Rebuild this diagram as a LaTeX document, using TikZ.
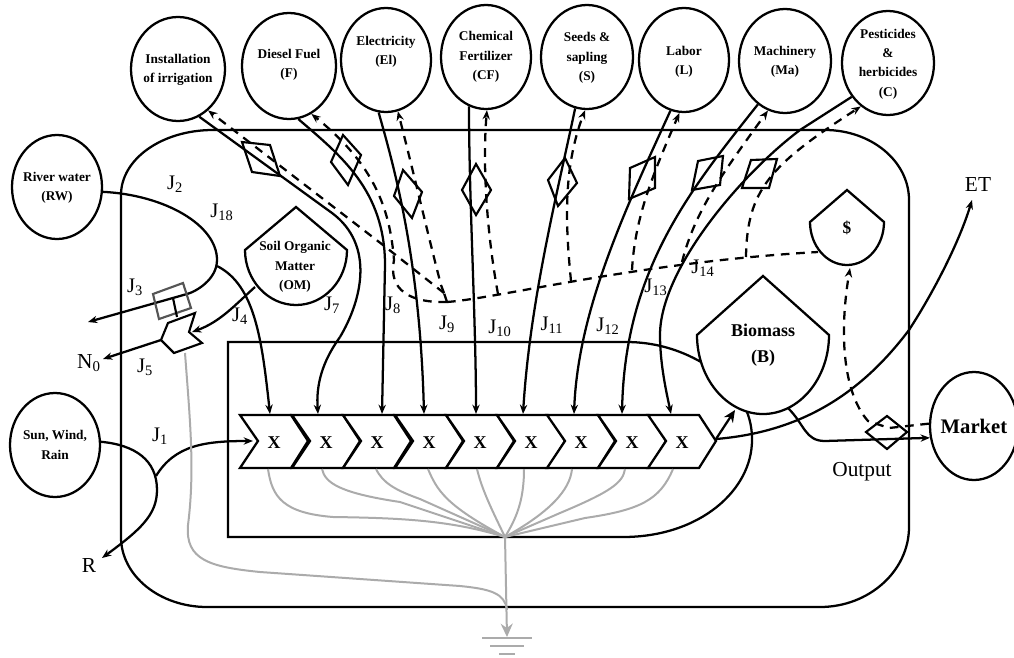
\documentclass[tikz,border=0pt]{standalone}
\usepackage{fontspec}
\setmainfont{Liberation Serif}
\usepackage{tikz}
\usetikzlibrary{arrows.meta, calc, shapes.geometric}
\definecolor{sinkc}{HTML}{ABABAB}
\definecolor{valvec}{HTML}{555555}
\tikzset{
  flow/.style={line width=1.7pt},
  money/.style={line width=1.7pt, dash pattern=on 6.5pt off 5pt},
  sink/.style={sinkc, line width=1.5pt},
  jlab/.style={inner sep=0pt, font=\fontsize{15.5}{17}\selectfont},
  plainlab/.style={inner sep=0pt, font=\fontsize{16}{18}\selectfont},
  srctext/.style={inner sep=0pt, align=center, font=\fontsize{10}{14.6}\selectfont\bfseries},
}
\newcommand{\source}[6]{%
  \node[ellipse, draw, line width=1.7pt, inner sep=0pt,
        minimum width=#3*1.5pt, minimum height=#4*1.5pt] (#1) at #2 {};
  \node[srctext] (#1t) at ($#2+(0,#5)$) {#6};
}
\newcommand{\tank}[9]{%
  \draw[line width=1.7pt] (#2,#3) -- ({#2+#4},#5)
    .. controls ({#2+#4},{#5+0.55*(#6-#5)}) and ({#2+0.55*#4},#6) .. (#2,#6)
    .. controls ({#2-0.55*#4},#6) and ({#2-#4},{#5+0.55*(#6-#5)}) .. ({#2-#4},#5) -- cycle;
  \node[srctext, #8] (#1) at #7 {#9};
}
\newcommand{\gate}[4]{%
  \draw[line width=1.6pt, line join=miter] #1 -- #2 -- #3 -- #4 -- cycle;
}

\begin{document}
\begin{tikzpicture}[x=0.75pt, y=-0.75pt, >={Stealth[length=7pt, width=5.5pt]}, line width=1.7pt]
  \useasboundingbox (0,0) rectangle (1014,657);
  \draw[flow] (213,130) -- (825,130) .. controls (871,130) and (909,161) .. (909,200)
    -- (909,527) .. controls (909,571) and (869,607) .. (820,607) -- (207,607)
    .. controls (160,607) and (121,576) .. (121,537) -- (121,195)
    .. controls (121,159) and (162,130) .. (213,130) -- cycle;

  \source{inst}{(178,69)}{47}{52}{1}{Installation\\of irrigation}
  \source{diesel}{(289,66)}{47}{53}{-1}{Diesel Fuel\\(F)}
  \source{elec}{(386,60)}{45}{52}{-8}{Electricity\\(El)}
  \source{cf}{(486,57)}{45}{52}{0}{Chemical\\Fertilizer\\(CF)}
  \source{seeds}{(587,57)}{46}{52}{1}{Seeds \&\\sapling\\(S)}
  \source{labor}{(684,60)}{45}{52}{2}{Labor\\(L)}
  \source{mach}{(785,61)}{46}{52}{1}{Machinery\\(Ma)}
  \source{pest}{(888,63)}{46}{52}{1}{Pesticides\\\&\\herbicides\\(C)}
  \source{rw}{(57,187)}{45}{52}{1}{River water\\(RW)}
  \source{sun}{(55,445)}{45}{52}{0}{Sun, Wind,\\Rain}
  \source{market}{(974,426)}{44}{54}{0}{\fontsize{15.5}{18}\selectfont Market}

  \tank{om}{296}{207}{51}{250}{305}{(295,267)}{}{Soil Organic\\Matter\\(OM)}
  \tank{dollar}{847}{190}{37}{222}{265}{(847,228)}{font=\fontsize{13}{16}\selectfont\bfseries}{\$}
  \tank{bio}{763}{276}{66}{335}{414}{(763,345)}{font=\fontsize{13.5}{19.5}\selectfont\bfseries}{Biomass\\(B)}

  \foreach \i/\cx/\inx/\outx in {1/240/270/268, 2/292/318/322, 3/343/382/376, 4/395/424/428,
      5/446/476/477, 6/497/523/524, 7/547/574/572, 8/598/622/625, 9/648/671/673} {
    \draw[line width=1.7pt, fill=white] (\cx,415) -- ({\cx+51},415) -- ({\cx+68},441)
      -- ({\cx+51},468) -- (\cx,468) -- ({\cx+18},441) -- cycle;
    \node[inner sep=0pt, font=\fontsize{13.5}{16}\selectfont\bfseries] (x\i) at ({\cx+34},443) {X};
    \coordinate (in\i) at (\inx,414);
    \coordinate (out\i) at (\outx,469);
  }
  \coordinate (notch) at (253,441);
  \coordinate (tip) at (716,439);
  \coordinate (hub) at (505,537);
  \coordinate (gnd) at (507,637);
  \coordinate (moneyhub) at (447,302);
  \coordinate (hubtop) at (444,293);
  \coordinate (dollarin) at (818,252);

  \draw[line width=1.7pt] (701,362) .. controls (680,350) and (655,342) .. (626,342)
    -- (228,342) -- (228,537) -- (623,537) .. controls (700,537) and (752,490) .. (752,440)
    .. controls (752,428) and (750,420) .. (747,412);

  \draw[flow] (inst.-66) -- (332,213) .. controls (375,245) and (362,300) .. (340,337);
  \draw[flow, ->] (340,337) .. controls (322,362) and (316,385) .. (in2);
  \draw[flow, ->] (diesel.-80) .. controls (340,155) and (385,190) .. (385,265) -- (in3);
  \draw[flow, ->] (elec.-98) .. controls (395,170) and (420,260) .. (in4);
  \draw[flow, ->] (cf.-109) .. controls (469,200) and (476,320) .. (in5);
  \draw[flow, ->] (seeds.-103) .. controls (558,190) and (530,300) .. (in6);
  \draw[flow, ->] (labor.-105) .. controls (625,210) and (578,310) .. (in7);
  \draw[flow, ->] (mach.-122) .. controls (690,190) and (625,270) .. (in8);
  \draw[flow] (pest.-137) -- (800,130) .. controls (740,175) and (660,270) .. (660,335);
  \draw[flow, ->] (660,335) .. controls (660,365) and (667,395) .. (in9);

  \coordinate (b5) at (498,294);
  \coordinate (b6) at (571,281);
  \coordinate (b7) at (632,270);
  \coordinate (b8) at (682,262);
  \coordinate (b9) at (746,257);
  \draw[money] (moneyhub) .. controls (500,298) and (640,262) .. (dollarin);
  \draw[money] (moneyhub) -- (hubtop);
  \draw[money, ->] (hubtop) -- (383,245) -- (inst.-54);
  \draw[money, ->] (moneyhub) .. controls (410,303) and (388,290) .. (394,260)
    .. controls (390,210) and (375,165) .. (diesel.-65);
  \draw[money, ->] (hubtop) -- (441,285) .. controls (428,235) and (413,170) .. (elec.-77);
  \draw[money, ->] (b5) .. controls (488,240) and (482,170) .. (cf.-89);
  \draw[money, ->] (b6) .. controls (566,230) and (562,170) .. (seeds.-92);
  \draw[money, ->] (b7) .. controls (635,215) and (655,170) .. (labor.-95);
  \draw[money, ->] (b8) .. controls (695,210) and (725,170) .. (mach.-109);
  \draw[money, ->] (b9) .. controls (747,190) and (770,165) .. (pest.-122);

  \gate{(242,142)}{(270,145)}{(280,176)}{(252,172)}
  \gate{(343,135)}{(361,155)}{(348,185)}{(331,162)}
  \gate{(403,170)}{(422,192)}{(412,218)}{(394,196)}
  \gate{(476,164)}{(491,190)}{(476,215)}{(462,190)}
  \gate{(565,158)}{(577,183)}{(558,206)}{(548,180)}
  \gate{(655,157)}{(655,188)}{(629,199)}{(630,168)}
  \gate{(723,156)}{(720,185)}{(692,190)}{(698,161)}
  \gate{(777,159)}{(769,188)}{(742,188)}{(751,160)}
  \gate{(887,416)}{(907,432)}{(887,449)}{(866,432)}

  \coordinate (jsun) at (156,476);
  \coordinate (rtip) at (102,558);
  \draw[flow, ->] (sun.4) .. controls (135,445) and (157,460) .. (157,490)
    .. controls (157,515) and (140,530) .. (rtip);
  \draw[flow, ->] (jsun) .. controls (175,445) and (205,441) .. (notch);

  \coordinate (jrw) at (217,266);
  \coordinate (w3tip) at (88,322);
  \draw[flow, ->] (rw.-6) .. controls (165,195) and (217,225) .. (217,260)
    .. controls (217,280) and (195,292) .. (187,294) -- (w3tip);
  \draw[flow, ->] (jrw) .. controls (255,285) and (262,340) .. (in1);
  \draw[line width=1.6pt, valvec] (153,294) -- (183,283) -- (191,308) -- (159,319) -- cycle;
  \coordinate (stemtop) at (173,298);
  \coordinate (stembot) at (177,317);
  \draw[line width=1.6pt] (stemtop) -- (stembot);
  \coordinate (sensl) at (161,340);
  \coordinate (sensin) at (192,332);
  \coordinate (n0tip) at (103,359);
  \draw[line width=1.6pt, fill=white] (sensl) -- (168,323) -- (195,313) -- (189,332)
    -- (202,343) -- (174,353) -- cycle;
  \draw[flow, ->] (255,287) .. controls (235,305) and (220,322) .. (sensin);
  \draw[flow, ->] (sensl) -- (n0tip);

  \draw[sink] (185,353) .. controls (190,420) and (195,470) .. (188,525)
    .. controls (185,560) and (210,567) .. (260,572) -- (460,586)
    .. controls (490,589) and (505,593) .. (507,610);
  \draw[sink] (out1) .. controls (272,497) and (283,513) .. (333,517) .. controls (400,518) and (450,520) .. (hub);
  \draw[sink] (out2) .. controls (325,483) and (340,493) .. (400,502) -- (hub);
  \draw[sink] (out3) .. controls (383,483) and (395,490) .. (420,499) -- (hub);
  \draw[sink] (out4) .. controls (437,490) and (445,505) .. (hub);
  \draw[sink] (out5) .. controls (482,490) and (492,510) .. (hub);
  \draw[sink] (out6) .. controls (524,503) and (515,520) .. (hub);
  \draw[sink] (out7) .. controls (570,490) and (550,512) .. (hub);
  \draw[sink] (out8) .. controls (623,483) and (610,492) .. (560,513) -- (hub);
  \draw[sink] (out9) .. controls (660,500) and (640,510) .. (585,518) -- (hub);
  \draw[sink, ->, >={Stealth[length=10pt, width=9pt]}] (hub) -- (gnd);
  \foreach \w/\gy/\lw in {25/638/1.6, 17/646/1.6, 8/654/1.8}
    \draw[sinkc, line width=\lw pt] ({507-\w},\gy) -- ({507+\w},\gy);

  \coordinate (etin) at (972,200);
  \coordinate (bioout) at (788,408);
  \coordinate (bioin) at (735,410);
  \draw[flow, ->, >={Stealth[length=9pt, width=8pt]}] (tip) -- (bioin);
  \draw[flow, ->] (tip) .. controls (800,432) and (860,395) .. (909,330)
    .. controls (935,290) and (960,240) .. (etin);
  \draw[flow, ->] (bioout) .. controls (805,425) and (805,441) .. (825,441) -- (market.-165);
  \draw[money, ->] (market.177) -- (889,428) -- (868,421)
    .. controls (845,395) and (838,340) .. (850,268);

  \foreach \n/\pos in {1/{(160,436)}, 2/{(175,184)}, 18/{(222,212)}, 3/{(135,287)},
      4/{(240,316)}, 5/{(145,367)}, 7/{(332,305)}, 8/{(393,305)}, 9/{(447,324)},
      10/{(500,328)}, 11/{(552,325)}, 12/{(608,326)}, 13/{(656,287)}, 14/{(703,268)}}
    \node[jlab] (j\n) at \pos {J\textsubscript{\n}};
  \node[plainlab] (n0) at (89,363) {N\textsubscript{0}};
  \node[plainlab] (r) at (89,566) {R};
  \node[plainlab] (et) at (978,185) {ET};
  \node[plainlab] (output) at (862,472) {Output};
\end{tikzpicture}
\end{document}
